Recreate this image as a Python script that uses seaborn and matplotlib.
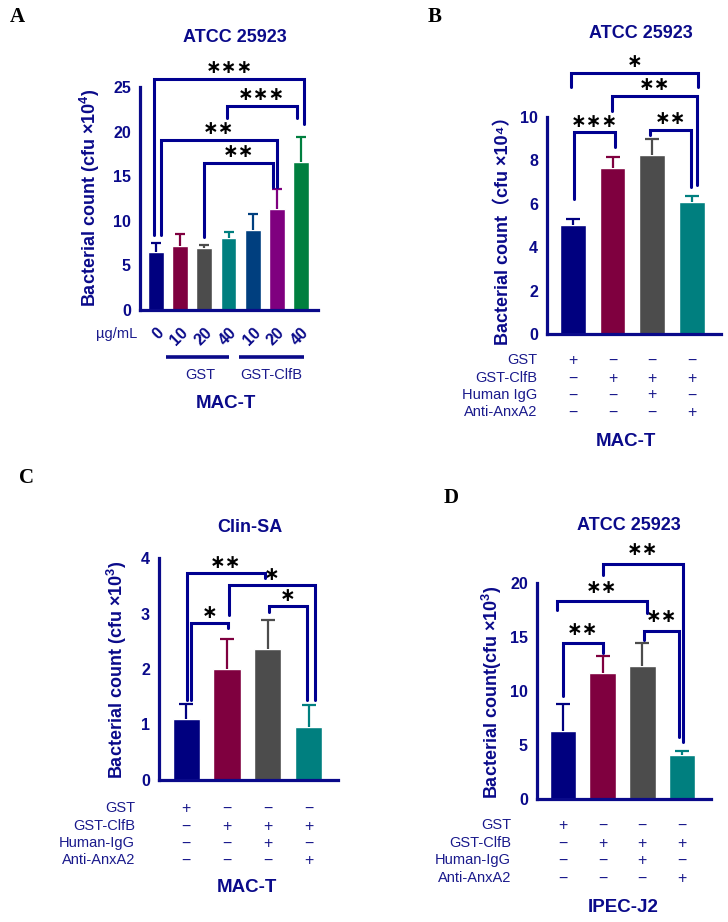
import matplotlib
matplotlib.use("Agg")
import matplotlib.pyplot as plt
import matplotlib.transforms as mtransforms
import seaborn as sns
import numpy as np

sns.set_style("white")
plt.rcParams['font.family'] = ['Liberation Sans', 'Noto Sans CJK SC', 'DejaVu Sans']
plt.rcParams['mathtext.fontset'] = 'custom'
plt.rcParams['mathtext.rm'] = 'Liberation Sans'
plt.rcParams['mathtext.bf'] = 'Liberation Sans:bold'

# ---------------- data ----------------
# Panel A
A_cats = ["GST0", "GST10", "GST20", "GST40", "ClfB10", "ClfB20", "ClfB40"]
A_ticklabels = ["0", "10", "20", "40", "10", "20", "40"]
A_means = [6.5, 7.2, 7.0, 8.1, 9.0, 11.3, 16.6]
A_sd = [1.0, 1.3, 0.25, 0.7, 1.8, 2.3, 2.8]
A_colors = ["#00007F", "#7F003F", "#4C4C4C", "#007F7F", "#003F7F", "#7F007F", "#007F3F"]
# brackets: (x1, x2, top, left_end, right_end, label)
A_brackets = [(-0.08, 6.13, 25.9, 8.4, 20.9, "***"),
              (2.93, 5.83, 22.9, 21.5, 21.5, "***"),
              (0.2, 5.0, 19.1, 8.4, 13.8, "**"),
              (2.0, 4.84, 16.5, 8.2, 13.8, "**")]

# Panel B
B_cats = ["B1", "B2", "B3", "B4"]
B_means = [5.02, 7.65, 8.25, 6.08]
B_sd = [0.3, 0.5, 0.75, 0.28]
B_brackets = [(0.03, 1.06, 9.3, 6.2, 8.6, "***"),
              (1.94, 2.97, 9.4, 9.17, 6.77, "**"),
              (0.98, 3.12, 10.97, 10.28, 6.87, "**"),
              (-0.05, 3.15, 12.03, 11.38, 11.38, "*")]
B_rows = ["GST", "GST-ClfB", "Human IgG", "Anti-AnxA2"]

# Panel C
C_cats = ["C1", "C2", "C3", "C4"]
C_means = [1.10, 2.0, 2.36, 0.96]
C_sd = [0.27, 0.54, 0.52, 0.39]
C_brackets = [(0.12, 1.02, 2.83, 1.44, 2.74, "*"),
              (0.02, 1.93, 3.73, 1.44, 3.64, "**"),
              (1.05, 3.15, 3.51, 2.97, 1.44, "*"),
              (2.02, 2.95, 3.13, 3.03, 1.44, "*")]
C_rows = ["GST", "GST-ClfB", "Human-IgG", "Anti-AnxA2"]

# Panel D
D_cats = ["D1", "D2", "D3", "D4"]
D_means = [6.3, 11.7, 12.3, 4.1]
D_sd = [2.5, 1.5, 2.1, 0.3]
D_brackets = [(0.0, 1.0, 14.4, 9.5, 13.5, "**"),
              (-0.15, 2.12, 18.3, 17.5, 17.2, "**"),
              (2.04, 2.92, 15.6, 14.7, 5.7, "**"),
              (1.0, 3.02, 21.8, 20.7, 5.3, "**")]
D_rows = ["GST", "GST-ClfB", "Human-IgG", "Anti-AnxA2"]

BCD_colors = ["#00007F", "#7F003F", "#4C4C4C", "#007F7F"]
signs = [["+", "\u2212", "\u2212", "\u2212"],
         ["\u2212", "+", "+", "+"],
         ["\u2212", "\u2212", "+", "\u2212"],
         ["\u2212", "\u2212", "\u2212", "+"]]

# ---------------- styling ----------------
W, H = 728, 922
NAVY = "#0A0A8A"
BRK = "#000090"
TXT = "#1A1A8C"

fig = plt.figure(figsize=(W / 100, H / 100), dpi=100)
fig.patch.set_facecolor("white")


def fx(px):
    return px / W


def fy(py):
    return 1 - py / H


def make_ax(l, r, y0, yt):
    return fig.add_axes([fx(l), fy(y0), fx(r - l), (y0 - yt) / H])


def style_ax(ax, yticks):
    for s in ["top", "right"]:
        ax.spines[s].set_visible(False)
    for s in ["left", "bottom"]:
        ax.spines[s].set_color(NAVY)
        ax.spines[s].set_linewidth(2.3)
    ax.set_yticks(yticks)
    ax.set_yticklabels([str(v) for v in yticks], fontsize=11.5, fontweight="bold", color=NAVY)
    ax.tick_params(axis="both", direction="out", length=5, width=2.3, colors=NAVY, pad=1.5)
    ax.set_xlabel("")
    ax.set_ylabel("")
    ax.set_facecolor("none")


def draw_bars(ax, cats, means, sd, colors, width, capsize):
    sns.barplot(x=cats, y=means, hue=cats, palette=colors, legend=False,
                width=width, saturation=1, errorbar=None, ax=ax, zorder=2)
    for i, (m, s) in enumerate(zip(means, sd)):
        _, caps, _ = ax.errorbar(i, m, yerr=[[0], [s]], fmt="none", ecolor=colors[i],
                                 elinewidth=1.6, capsize=capsize, capthick=1.6, zorder=3)
        if len(caps) > 1:
            caps[0].set_visible(False)


def draw_brackets(ax, brackets, offset_pt, fs=13.5):
    for x1, x2, top, le, re, lab in brackets:
        ax.plot([x1, x1, x2, x2], [le, top, top, re], color=BRK, lw=2.2,
                clip_on=False, solid_joinstyle="miter", zorder=4)
        ax.annotate(lab.replace("*", "\u2217"), xy=((x1 + x2) / 2, top),
                    xytext=(0, offset_pt), textcoords="offset points",
                    ha="center", va="center", fontsize=fs, fontweight="bold",
                    color="black", family="DejaVu Sans", annotation_clip=False)


def sign_table(ax, rows, row_ys, label_x):
    tr = mtransforms.blended_transform_factory(ax.transData, fig.transFigure)
    for r, (name, yy) in enumerate(zip(rows, row_ys)):
        fig.text(fx(label_x), fy(yy), name, ha="right", va="center",
                 fontsize=10.5, color=TXT)
        for c in range(4):
            ax.text(c, fy(yy), signs[r][c], transform=tr, ha="center",
                    va="center", fontsize=11.5, color=TXT, clip_on=False)


# ---------------- Panel A ----------------
axA = make_ax(140, 318, 310, 87)
draw_bars(axA, A_cats, A_means, A_sd, A_colors, 0.66, 3.6)
axA.set_xlim(-0.66, 6.7)
axA.set_ylim(0, 25)
style_ax(axA, [0, 5, 10, 15, 20, 25])
axA.set_xticks(range(len(A_cats)))
axA.set_xticklabels(A_ticklabels, rotation=45, ha="right", rotation_mode="anchor",
                    fontsize=11.5, fontweight="bold", color=NAVY)
axA.tick_params(axis="x", pad=6)
draw_brackets(axA, A_brackets, 8)
trA = mtransforms.blended_transform_factory(axA.transData, fig.transFigure)
axA.plot([0.41, 3.02], [fy(357)] * 2, transform=trA, color=NAVY, lw=2.6, clip_on=False,
         solid_capstyle="butt")
axA.plot([3.43, 6.12], [fy(357)] * 2, transform=trA, color=NAVY, lw=2.6, clip_on=False,
         solid_capstyle="butt")
axA.text(1.82, fy(375), "GST", transform=trA, ha="center", va="center", fontsize=10.5, color=TXT)
axA.text(4.76, fy(375), "GST-ClfB", transform=trA, ha="center", va="center", fontsize=10.5, color=TXT)
fig.text(fx(137), fy(334), "µg/mL", ha="right", va="center", fontsize=10.5, color=TXT)
fig.text(fx(226), fy(404), "MAC-T", ha="center", va="center", fontsize=13.5,
         fontweight="bold", color=NAVY)
fig.text(fx(235), fy(38), "ATCC 25923", ha="center", va="center", fontsize=13,
         fontweight="bold", color=NAVY)
fig.text(fx(90), fy(198), "Bacterial count (cfu \u00d710$^{\\mathbf{4}}$)", rotation=90,
         ha="center", va="center", fontsize=13, fontweight="bold", color=NAVY)
fig.text(fx(17), fy(17), "A", ha="center", va="center", fontsize=15,
         fontweight="bold", family="Liberation Serif", color="black")

# ---------------- Panel B ----------------
axB = make_ax(547, 721, 334, 117)
draw_bars(axB, B_cats, B_means, B_sd, BCD_colors, 0.65, 5)
axB.set_xlim(-0.65, 3.73)
axB.set_ylim(0, 10)
style_ax(axB, [0, 2, 4, 6, 8, 10])
axB.set_xticks(range(4))
axB.set_xticklabels([])
draw_brackets(axB, B_brackets, 8)
sign_table(axB, B_rows, [360, 378, 395, 412], 537)
fig.text(fx(626), fy(442), "MAC-T", ha="center", va="center", fontsize=13.5,
         fontweight="bold", color=NAVY)
fig.text(fx(641), fy(33), "ATCC 25923", ha="center", va="center", fontsize=13,
         fontweight="bold", color=NAVY)
fig.text(fx(504), fy(226), "Bacterial count\uff08cfu \u00d710\u2074\uff09", rotation=90,
         ha="center", va="center", fontsize=13, fontweight="bold", color=NAVY)
fig.text(fx(435), fy(17), "B", ha="center", va="center", fontsize=15,
         fontweight="bold", family="Liberation Serif", color="black")

# ---------------- Panel C ----------------
axC = make_ax(159, 338, 780, 558)
draw_bars(axC, C_cats, C_means, C_sd, BCD_colors, 0.66, 5)
axC.set_xlim(-0.66, 3.71)
axC.set_ylim(0, 4)
style_ax(axC, [0, 1, 2, 3, 4])
axC.set_xticks(range(4))
axC.set_xticklabels([])
draw_brackets(axC, C_brackets, 7.5)
sign_table(axC, C_rows, [808, 826, 843, 860], 135)
fig.text(fx(247), fy(887), "MAC-T", ha="center", va="center", fontsize=13.5,
         fontweight="bold", color=NAVY)
fig.text(fx(250), fy(527), "Clin-SA", ha="center", va="center", fontsize=13,
         fontweight="bold", color=NAVY)
fig.text(fx(117), fy(670), "Bacterial count (cfu \u00d710$^{\\mathbf{3}}$)", rotation=90,
         ha="center", va="center", fontsize=13, fontweight="bold", color=NAVY)
fig.text(fx(27), fy(478), "C", ha="center", va="center", fontsize=15,
         fontweight="bold", family="Liberation Serif", color="black")

# ---------------- Panel D ----------------
axD = make_ax(537, 711, 799, 583)
draw_bars(axD, D_cats, D_means, D_sd, BCD_colors, 0.67, 5)
axD.set_xlim(-0.65, 3.73)
axD.set_ylim(0, 20)
style_ax(axD, [0, 5, 10, 15, 20])
axD.set_xticks(range(4))
axD.set_xticklabels([])
draw_brackets(axD, D_brackets, 10)
sign_table(axD, D_rows, [825, 843, 860, 878], 511)
fig.text(fx(623), fy(907), "IPEC-J2", ha="center", va="center", fontsize=13.5,
         fontweight="bold", color=NAVY)
fig.text(fx(629), fy(525), "ATCC 25923", ha="center", va="center", fontsize=13,
         fontweight="bold", color=NAVY)
fig.text(fx(492), fy(692), "Bacterial count(cfu \u00d710$^{\\mathbf{3}}$)", rotation=90,
         ha="center", va="center", fontsize=13, fontweight="bold", color=NAVY)
fig.text(fx(451), fy(498), "D", ha="center", va="center", fontsize=15,
         fontweight="bold", family="Liberation Serif", color="black")

fig.savefig("out.png", dpi=100, facecolor="white")
